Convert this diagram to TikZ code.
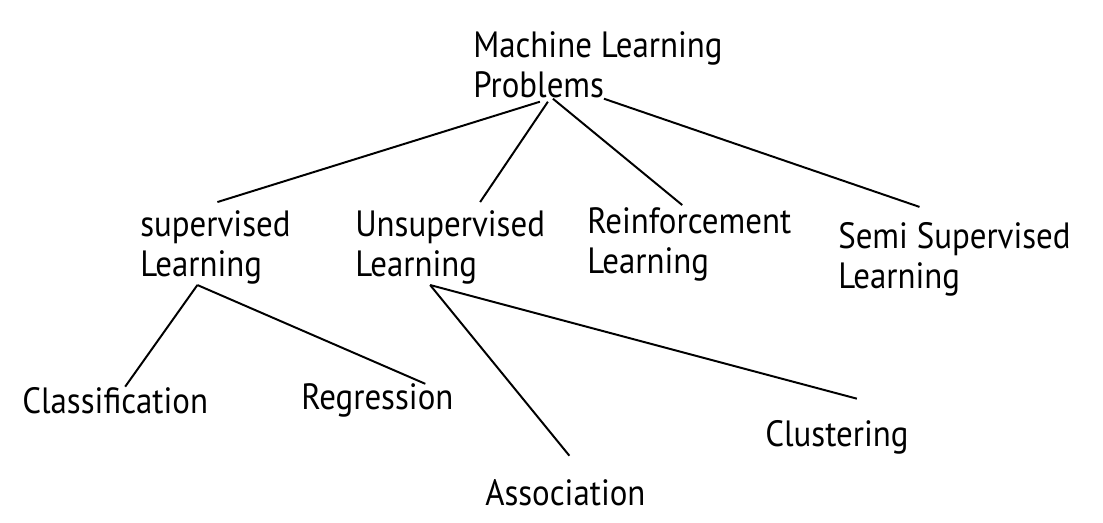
\documentclass[tikz,border=0pt]{standalone}
\usepackage{fontspec}
\setmainfont{PT Sans}[FakeStretch=0.9]
\begin{document}
\begin{tikzpicture}[x=0.025cm,y=-0.025cm,
    label/.style={anchor=base west,align=left,inner sep=0pt,font=\fontsize{26}{29}\selectfont},
    branch/.style={black,line width=1.4pt}]
    \useasboundingbox (0,0) rectangle (1103,523);

    % Akar pohon
    \node[label] (root) at (473,98) {Machine Learning\\Problems};

    % Jenis pembelajaran
    \node[label] (sup) at (140,277) {supervised\\Learning};
    \node[label] (unsup) at (355,277) {Unsupervised\\Learning};
    \node[label] (reinf) at (587,274) {Reinforcement\\Learning};
    \node[label] (semi) at (838,289) {Semi Supervised\\Learning};

    % Metode
    \node[label] (klas) at (22,413) {Classification};
    \node[label] (regr) at (301,410) {Regression};
    \node[label] (asos) at (485,505) {Association};
    \node[label] (klus) at (765,447) {Clustering};

    % Cabang dari akar
    \draw[branch] ([xshift=-1.45cm,yshift=-.075cm]root.south) -- ([xshift=.05cm,yshift=.2cm]sup.north);
    \draw[branch] ([xshift=-1.25cm,yshift=-.075cm]root.south) -- ([xshift=.75cm,yshift=.2cm]unsup.north);
    \draw[branch] ([xshift=-1.125cm]root.south) -- ([xshift=-.175cm,yshift=.05cm]reinf.north);
    \draw[branch] ([xshift=.15cm]root.south) -- ([xshift=-.875cm,yshift=.375cm]semi.north);

    % Cabang ke metode
    \draw[branch] ([xshift=-.45cm]sup.south) -- ([xshift=.25cm]klas.north);
    \draw[branch] ([xshift=-.45cm]sup.south) -- ([xshift=1.2cm]regr.north);
    \draw[branch] ([xshift=-.5cm]unsup.south) -- ([xshift=.1cm,yshift=.575cm]asos.north);
    \draw[branch] ([xshift=-.5cm]unsup.south) -- ([xshift=.5cm,yshift=.55cm]klus.north);
\end{tikzpicture}
\end{document}
